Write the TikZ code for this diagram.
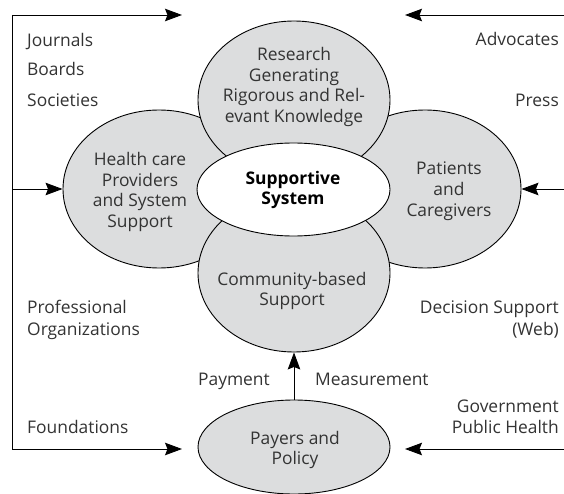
\documentclass[tikz,border=0pt]{standalone}
\usepackage{fontspec}
\setmainfont{Open Sans}
\usetikzlibrary{shapes.geometric,arrows.meta}
\definecolor{blobfill}{HTML}{DCDDDE}
\definecolor{txt}{HTML}{333333}
\tikzset{
  blob/.style={ellipse,draw=black,line width=0.9pt,fill=blobfill,inner sep=0pt,minimum width=192pt},
  core/.style={ellipse,draw=black,line width=0.9pt,fill=white,inner sep=0pt},
  lab/.style={text=txt,font=\fontsize{17.4}{20.8}\selectfont,inner sep=0pt},
  blabel/.style={lab,align=center},
  conn/.style={draw=black,line width=0.9pt},
  arr/.style={conn,-{Stealth[length=17pt,width=12.5pt,inset=2.5pt]}}
}
\begin{document}
\begin{tikzpicture}[x=1pt,y=-1pt]
\useasboundingbox (0,0) rectangle (564,494);
% ellipses
\node[blob,minimum height=158pt] (left) at (159,189) {};
\node[blob,minimum height=158pt] (right) at (425,189) {};
\node[blob,minimum height=158pt] (research) at (294,100) {};
\node[blob,minimum height=158pt] (community) at (294,273) {};
\node[core,minimum width=193pt,minimum height=93pt] (center) at (293.5,189.5) {};
\node[blob,minimum height=94pt] (payers) at (294,447) {};
% ellipse texts
\node[blabel] (tresearch) at (294,87) {Research\\Generating\\Rigorous and Rel-\\evant Knowledge};
\node[blabel] (tleft) at (140,192) {Health care\\Providers\\and System\\Support};
\node[blabel] (tright) at (449,191) {Patients\\and\\Caregivers};
\node[blabel] (tcommunity) at (292,291) {Community-based\\Support};
\node[blabel] (tpayers) at (295,450) {Payers and\\Policy};
\node[blabel,text=black,font=\fontsize{17.4}{20.8}\selectfont\bfseries] (tcenter) at (293,190) {Supportive\\System};
% corner coordinates
\coordinate (tl) at (12,15);
\coordinate (bl) at (12,449);
\coordinate (ml) at (12,189);
\coordinate (tlend) at (182,15);
\coordinate (blend) at (182,449);
\coordinate (tr) at (564,15);
\coordinate (mr) at (564,189);
\coordinate (br) at (564,449);
\coordinate (trend) at (405,15);
\coordinate (brend) at (405,449);
% connectors
\draw[conn] (tl) -- (bl);
\draw[arr] (tl) -- (tlend);
\draw[arr] (bl) -- (blend);
\draw[arr] (ml) -- (left.west);
\draw[arr] (tr) -- (trend);
\draw[arr] (br) -- (brend);
\draw[arr] (mr) -- (right.east);
\draw[arr] (payers.north) -- (community.south);
% side labels
\node[lab,anchor=base west] (journals) at (27,47) {Journals};
\node[lab,anchor=base west] (boards) at (27,76) {Boards};
\node[lab,anchor=base west] (societies) at (27,107) {Societies};
\node[lab,anchor=base west] (prof) at (27,313) {Professional};
\node[lab,anchor=base west] (orgs) at (27,335) {Organizations};
\node[lab,anchor=base west] (found) at (27,433) {Foundations};
\node[lab,anchor=base east] (payment) at (270,385) {Payment};
\node[lab,anchor=base west] (measure) at (315,385) {Measurement};
\node[lab,anchor=base east] (advocates) at (559,46) {Advocates};
\node[lab,anchor=base east] (press) at (559,107) {Press};
\node[lab,anchor=base east] (decision) at (559,313) {Decision Support};
\node[lab,anchor=base east] (web) at (559,335) {(Web)};
\node[lab,anchor=base east] (gov) at (559,412) {Government};
\node[lab,anchor=base east] (public) at (559,433) {Public Health};
\end{tikzpicture}
\end{document}
